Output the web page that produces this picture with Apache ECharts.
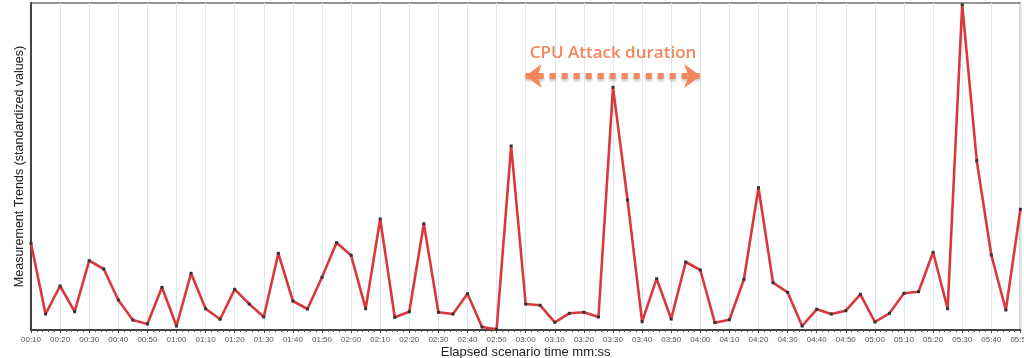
<!DOCTYPE html>
<html>
<head>
<meta charset="utf-8">
<style>
  html, body { margin: 0; padding: 0; background: #fff; }
  #chart { width: 1024px; height: 358px; }
</style>
<script src="https://cdn.jsdelivr.net/npm/echarts@6/dist/echarts.min.js"></script>
</head>
<body>
<div id="chart"></div>
<script>
// Elapsed time in seconds (00:10 .. 05:50, every 5 s)
const startSec = 10;
const stepSec = 5;
const trendValues = [
  86.7, 16, 44, 18.3, 69.3, 61, 30, 10, 6, 42.7,
  4, 56.7, 21.3, 10.7, 40.7, 26, 13, 76.7, 29, 21,
  52.7, 87.3, 74.7, 21.3, 111, 12.7, 18.3, 106.3, 17.7, 16,
  36.3, 3, 0.7, 184, 26, 24.7, 7.7, 16.7, 17.7, 13,
  242.7, 130, 8.3, 51.3, 11, 68, 60, 7.3, 10.3, 50.7,
  142.3, 47.3, 37.7, 4, 20.7, 16, 19.3, 35.7, 8, 16.7,
  36.7, 38.3, 77.7, 21.3, 325.3, 169.3, 75, 20, 120.7
];
const timeSec = trendValues.map((_, i) => startSec + i * stepSec);
// CPU attack window (seconds) and annotation level
const attackStartSec = 180;
const attackEndSec = 240;
const attackLevel = 254;
const attackLabel = 'CPU Attack duration';

const xAxisTitle = 'Elapsed scenario time mm:ss';
const yAxisTitle = 'Measurement Trends (standardized values)';

function mmss(s) {
  const m = Math.floor(s / 60), sec = Math.round(s % 60);
  return String(m).padStart(2, '0') + ':' + String(sec).padStart(2, '0');
}

const chart = echarts.init(document.getElementById('chart'), null, { renderer: 'canvas' });
chart.setOption({
  animation: false,
  backgroundColor: '#ffffff',
  grid: {
    left: 31, right: 3.6, top: 3, bottom: 28,
    show: true, borderColor: '#777', borderWidth: 1.5,
    containLabel: false,
    outerBoundsMode: 'none'
  },
  xAxis: {
    type: 'value',
    min: 10, max: 350, interval: 10,
    name: xAxisTitle,
    nameLocation: 'middle',
    nameGap: 16,
    nameMoveOverlap: false,
    nameTextStyle: { fontFamily: 'Liberation Sans, Arial', fontSize: 13, color: '#222' },
    axisLine: { show: true, lineStyle: { color: '#444', width: 2 } },
    axisTick: { show: true, length: 3, lineStyle: { color: '#444', width: 1 } },
    minorTick: { show: true, splitNumber: 5, length: 2, lineStyle: { color: '#555', width: 1 } },
    axisLabel: {
      formatter: v => mmss(v),
      fontFamily: 'Liberation Sans, Arial', fontSize: 8, color: '#555', margin: 6,
      showMinLabel: true, showMaxLabel: true, hideOverlap: false
    },
    splitLine: { show: true, lineStyle: { color: '#dde7f3', width: 1 } }
  },
  yAxis: {
    type: 'value',
    min: 0, max: 327,
    name: yAxisTitle,
    nameLocation: 'middle',
    nameGap: 5,
    nameMoveOverlap: false,
    nameTextStyle: { fontFamily: 'Liberation Sans, Arial', fontSize: 12.5, color: '#222' },
    axisLine: { show: true, lineStyle: { color: '#444', width: 2 } },
    axisTick: { show: false },
    axisLabel: { show: false },
    splitLine: { show: false }
  },
  series: [{
    type: 'line',
    data: timeSec.map((t, i) => [t, trendValues[i]]),
    showSymbol: true,
    symbol: 'rect',
    symbolSize: 3,
    itemStyle: { color: '#333' },
    lineStyle: { color: '#d9393c', width: 2.6 },
    z: 3,
    markLine: {
      silent: true,
      symbol: ['arrow', 'arrow'],
      symbolSize: [18, 16],
      lineStyle: {
        color: '#f4865c', width: 6, type: 'dotted',
        shadowColor: 'rgba(0,0,0,0.25)', shadowBlur: 3, shadowOffsetY: 2
      },
      label: {
        show: true,
        position: 'middle',
        formatter: attackLabel,
        color: '#f4865c',
        fontFamily: 'Open Sans, Liberation Sans, Arial',
        fontSize: 17,
        fontWeight: 600,
        distance: 14
      },
      data: [[
        { coord: [attackStartSec, attackLevel] },
        { coord: [attackEndSec, attackLevel] }
      ]]
    }
  }]
});
</script>
</body>
</html>
